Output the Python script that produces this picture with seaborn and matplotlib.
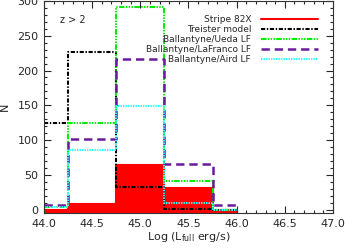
import matplotlib
matplotlib.use("Agg")
import matplotlib.pyplot as plt
import seaborn as sns
from matplotlib.ticker import MultipleLocator

sns.set_style("ticks")
plt.rcParams['font.family'] = ['DejaVu Sans']
plt.rcParams['lines.scale_dashes'] = False

# bin centres (log L_full) and number of sources per bin, z > 2
log_l = [44.0, 44.5, 45.0, 45.5, 46.0]
stripe82x = [0, 8, 64, 31, 0]
treister = [124, 226, 33, 1, 0]
ueda = [4, 124, 291, 41, 0]
lafranco = [6, 101, 216, 66, 6]
aird = [3, 86, 149, 10, 0]

fig = plt.figure(figsize=(3.45, 2.48), dpi=100)
ax = fig.add_axes([0.1275, 0.141, 0.8375, 0.855])

# observed counts: filled histogram
ax.fill_between(log_l, -10, stripe82x, step='mid', color='red', lw=0)
sns.lineplot(x=log_l, y=stripe82x, drawstyle='steps-mid', color='red', lw=1.5,
             label='Stripe 82X', ax=ax)

# model predictions
sns.lineplot(x=log_l, y=treister, drawstyle='steps-mid', color='black', lw=1.5,
             linestyle=(0, (3, 1.2, 1, 1.2)), label='Treister model', ax=ax)
sns.lineplot(x=log_l, y=ueda, drawstyle='steps-mid', color='#00ee00', lw=1.5,
             linestyle=(0, (4, 1, 1, 1, 1, 1, 1, 1)), label='Ballantyne/Ueda LF', ax=ax)
sns.lineplot(x=log_l, y=lafranco, drawstyle='steps-mid', color='#6a1b9a', lw=1.8,
             linestyle=(0, (6, 3.5)), label='Ballantyne/LaFranco LF', ax=ax)
sns.lineplot(x=log_l, y=aird, drawstyle='steps-mid', color='#33ffff', lw=1.5,
             linestyle=(0, (1, 0.8)), label='Ballantyne/Aird LF', ax=ax)

ax.set_xlim(44.0, 47.0)
ax.set_ylim(-5, 300)
ax.xaxis.set_major_locator(MultipleLocator(0.5))
ax.xaxis.set_minor_locator(MultipleLocator(0.1))
ax.yaxis.set_major_locator(MultipleLocator(50))
ax.yaxis.set_minor_locator(MultipleLocator(10))
ax.xaxis.set_major_formatter(matplotlib.ticker.FormatStrFormatter('%.1f'))
ax.tick_params(which='both', direction='in', top=True, right=True, labelsize=8,
               width=0.8)
ax.tick_params(which='major', length=5, pad=4)
ax.tick_params(which='minor', length=2.5)
for s in ax.spines.values():
    s.set_visible(True)
    s.set_linewidth(0.8)
    s.set_color('#333333')

ax.set_xlabel('Log (L$_{\\rm full}$ erg/s)', fontsize=8, labelpad=1)
ax.set_ylabel('N', fontsize=8)
ax.yaxis.set_label_coords(-0.118, 0.5)
ax.text(0.055, 0.91, 'z > 2', transform=ax.transAxes, fontsize=7, va='center')

ax.legend(loc='upper right', bbox_to_anchor=(0.948, 0.935), markerfirst=False,
          frameon=False, handlelength=6.3, fontsize=6.5, labelspacing=0.12,
          handletextpad=1.1, borderaxespad=0, borderpad=0)

fig.savefig('out.png', dpi=100)
